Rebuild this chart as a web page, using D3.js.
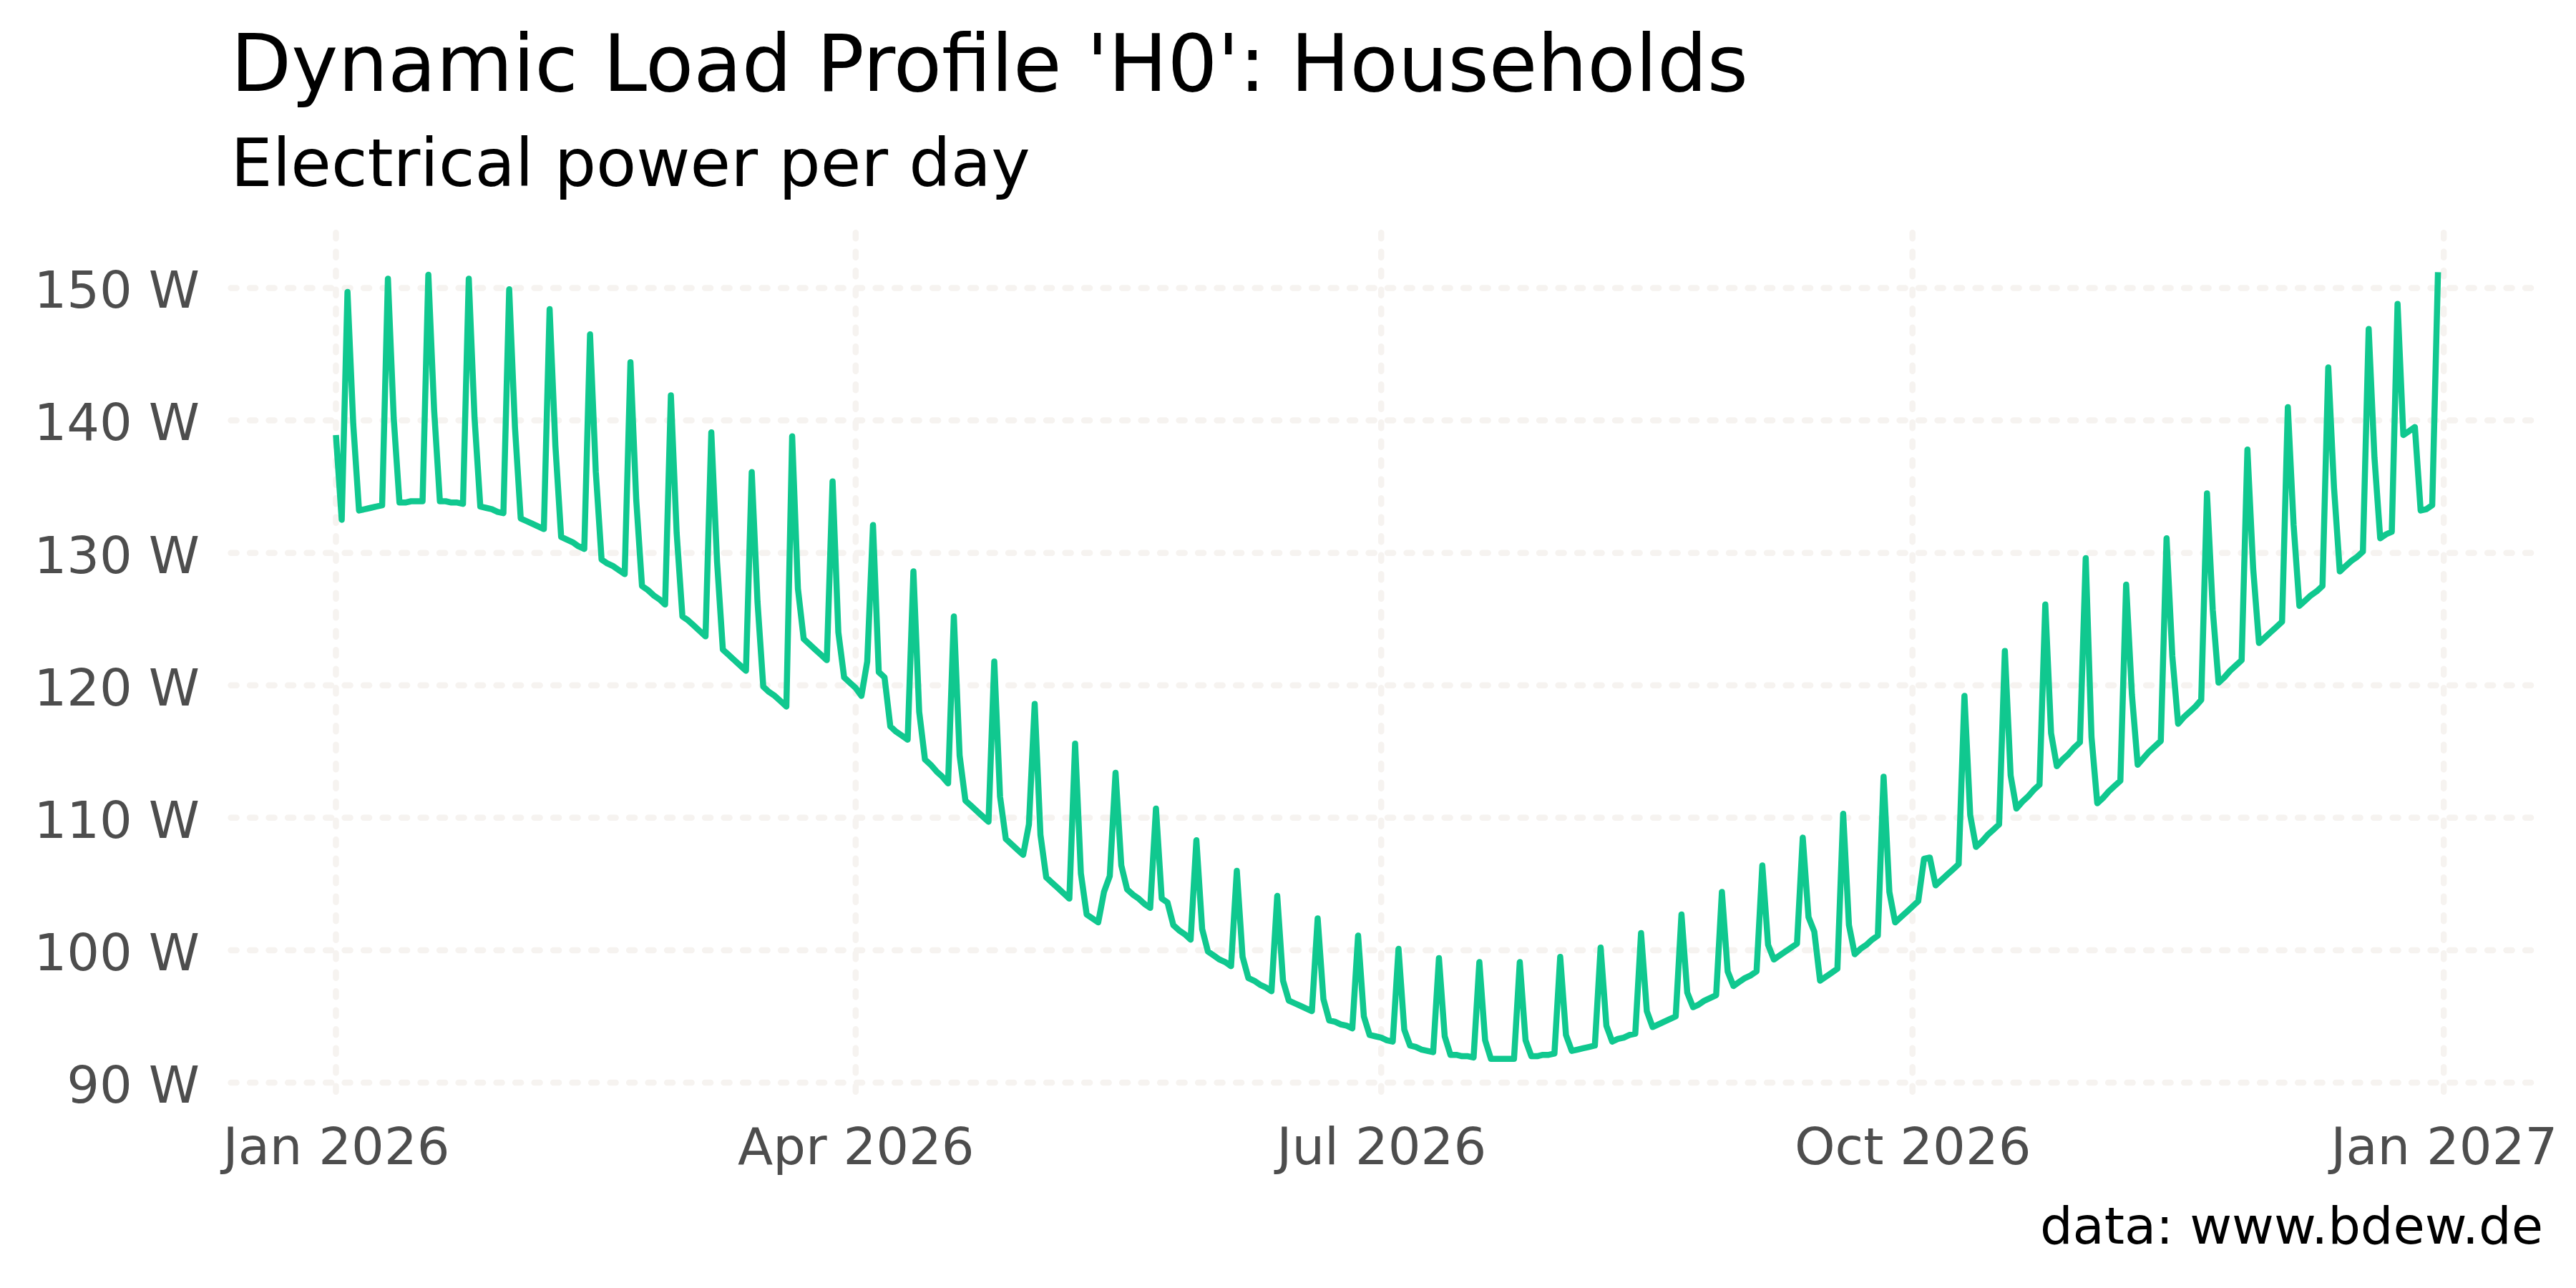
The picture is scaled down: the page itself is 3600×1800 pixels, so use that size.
<!DOCTYPE html>
<html>
<head>
<meta charset="utf-8">
<script src="https://cdn.jsdelivr.net/npm/d3@7"></script>
<style>
html, body { margin: 0; padding: 0; background: #ffffff; }
svg { display: block; }
</style>
</head>
<body>
<svg id="chart" width="3600" height="1800"></svg>
<script>
// ---------------- DATA (daily average power, W) ----------------
const startDate = "2026-01-01";
const jan = [138.9,132.5,149.7,139.7,133.2,133.3,133.4,133.5,133.6,150.7,140.2,133.8,133.8,133.9,133.9,133.9,151.0,140.8,133.9,133.9,133.8,133.8,133.7,150.7,140.2,133.5,133.4,133.3,133.1,133.0,149.9];
const feb = [139.5,132.6,132.4,132.2,132.0,131.8,148.4,138.1,131.2,131.0,130.8,130.5,130.3,146.5,136.1,129.5,129.2,129.0,128.7,128.4,144.4,134.0,127.5,127.2,126.8,126.5,126.1,141.9];
const mar = [131.5,125.2,124.9,124.5,124.1,123.7,139.1,129.3,122.7,122.3,121.9,121.5,121.1,136.1,126.3,119.9,119.5,119.2,118.8,118.4,138.8,127.3,123.5,123.1,122.7,122.3,121.9,135.4,124.0,120.6,120.2];
const apr = [119.8,119.2,121.8,132.1,121.0,120.6,116.9,116.5,116.2,115.9,128.6,118.0,114.4,114.0,113.5,113.1,112.6,125.2,114.7,111.3,110.9,110.5,110.1,109.7,121.8,111.6,108.4,108.0,107.6,107.2];
const may = [109.5,118.6,108.7,105.5,105.1,104.7,104.3,103.9,115.6,105.8,102.7,102.4,102.1,104.4,105.6,113.4,106.4,104.6,104.2,103.9,103.5,103.2,110.7,103.9,103.6,101.9,101.5,101.2,100.8,108.3,101.6];
const jun = [99.9,99.6,99.3,99.1,98.8,106.0,99.5,97.9,97.7,97.4,97.2,96.9,104.1,97.7,96.2,96.0,95.8,95.6,95.4,102.4,96.3,94.7,94.6,94.4,94.3,94.1,101.1,95.0,93.6,93.5];
const jul = [93.4,93.2,93.1,100.1,94.0,92.8,92.7,92.5,92.4,92.3,99.4,93.5,92.1,92.1,92.0,92.0,91.9,99.1,93.2,91.8,91.8,91.8,91.8,91.8,99.1,93.2,92.0,92.0,92.1,92.1,92.2];
const aug = [99.5,93.6,92.4,92.5,92.6,92.7,92.8,100.2,94.3,93.1,93.3,93.4,93.6,93.7,101.3,95.4,94.2,94.4,94.6,94.8,95.0,102.7,96.8,95.7,95.9,96.2,96.4,96.6,104.4,98.4,97.3];
const sep = [97.6,97.9,98.1,98.4,106.4,100.4,99.3,99.6,99.9,100.2,100.5,108.5,102.5,101.4,97.7,98.0,98.3,98.6,110.3,101.9,99.7,100.1,100.4,100.8,101.1,113.1,104.4,102.1,102.5,102.9];
const oct = [103.3,103.7,106.9,107.0,104.9,105.3,105.7,106.1,106.5,119.2,110.2,107.8,108.2,108.7,109.1,109.5,122.6,113.2,110.7,111.2,111.6,112.1,112.5,126.1,116.4,113.9,114.4,114.8,115.3,115.7,129.6];
const nov = [116.1,111.1,111.5,112.0,112.4,112.8,127.6,119.3,114.0,114.5,115.0,115.4,115.8,131.1,122.2,117.1,117.6,118.0,118.4,118.9,134.5,125.7,120.2,120.6,121.1,121.5,121.9,137.8,128.8,123.2];
const dec = [123.6,124.0,124.4,124.8,141.0,132.1,126.0,126.4,126.8,127.1,127.5,144.0,134.9,128.6,129.0,129.4,129.7,130.1,146.9,137.2,131.1,131.4,131.6,148.8,138.9,139.2,139.5,133.2,133.3,133.6,151.2];

const yTickValues = [90, 100, 110, 120, 130, 140, 150];
const xTickDates = ["2026-01-01", "2026-04-01", "2026-07-01", "2026-10-01", "2027-01-01"];

const titleText = "Dynamic Load Profile 'H0': Households";
const subtitleText = "Electrical power per day";
const captionText = "data: www.bdew.de";

// ---------------- BUILD ----------------
const values = [].concat(jan, feb, mar, apr, may, jun, jul, aug, sep, oct, nov, dec);
const parse = d3.utcParse("%Y-%m-%d");
const t0 = parse(startDate);
const data = values.map((v, i) => ({ date: d3.utcDay.offset(t0, i), value: v }));

const FONT = "DejaVu Sans, Verdana, sans-serif";
const panel = { left: 322.6, right: 3554, top: 325.3, bottom: 1534.7 };

const xExt = d3.extent(data, d => d.date);
const xSpan = xExt[1] - xExt[0];
const x = d3.scaleUtc()
  .domain([new Date(+xExt[0] - 0.05 * xSpan), new Date(+xExt[1] + 0.05 * xSpan)])
  .range([panel.left, panel.right]);

const yExt = d3.extent(values);
const ySpan = yExt[1] - yExt[0];
const y = d3.scaleLinear()
  .domain([yExt[0] - 0.05 * ySpan, yExt[1] + 0.05 * ySpan])
  .range([panel.bottom, panel.top]);

const svg = d3.select("#chart");
svg.append("rect").attr("width", 3600).attr("height", 1800).attr("fill", "#ffffff");

const xTicks = xTickDates.map(parse);

// grid
const grid = svg.append("g")
  .attr("stroke", "#f6f3f0")
  .attr("stroke-width", 8.5)
  .attr("stroke-linecap", "round")
  .attr("stroke-dasharray", "8 18.5")
  .attr("fill", "none");

grid.selectAll("line.h").data(yTickValues).join("line")
  .attr("class", "h")
  .attr("x1", panel.left).attr("x2", panel.right)
  .attr("y1", d => y(d)).attr("y2", d => y(d));

grid.selectAll("line.v").data(xTicks).join("line")
  .attr("class", "v")
  .attr("x1", d => x(d)).attr("x2", d => x(d))
  .attr("y1", panel.top).attr("y2", panel.bottom);

// line
const line = d3.line()
  .x(d => x(d.date))
  .y(d => y(d.value));

svg.append("path")
  .datum(data)
  .attr("d", line)
  .attr("fill", "none")
  .attr("stroke", "#10c88f")
  .attr("stroke-width", 8.5)
  .attr("stroke-linejoin", "round")
  .attr("stroke-linecap", "butt");

// axes
const yAxis = d3.axisLeft(y)
  .tickValues(yTickValues)
  .tickSize(0)
  .tickPadding(43.6)
  .tickFormat(d => d + " W");

const gy = svg.append("g")
  .attr("transform", `translate(${panel.left},0)`)
  .call(yAxis);
gy.select(".domain").remove();
gy.selectAll("text")
  .attr("font-family", FONT)
  .attr("font-size", 72)
  .attr("fill", "#4d4d4d")
  .attr("dy", "0.38em");

const xAxis = d3.axisBottom(x)
  .tickValues(xTicks)
  .tickSize(0)
  .tickPadding(41)
  .tickFormat(d3.utcFormat("%b %Y"));

const gx = svg.append("g")
  .attr("transform", `translate(0,${panel.bottom})`)
  .call(xAxis);
gx.select(".domain").remove();
gx.selectAll("text")
  .attr("font-family", FONT)
  .attr("font-size", 72)
  .attr("fill", "#4d4d4d");

// titles
svg.append("text")
  .attr("x", panel.left).attr("y", 127)
  .attr("font-family", FONT).attr("font-size", 110)
  .attr("fill", "#000000")
  .text(titleText);

svg.append("text")
  .attr("x", panel.left).attr("y", 260)
  .attr("font-family", FONT).attr("font-size", 92)
  .attr("fill", "#000000")
  .text(subtitleText);

svg.append("text")
  .attr("x", panel.right).attr("y", 1738)
  .attr("text-anchor", "end")
  .attr("font-family", FONT).attr("font-size", 72)
  .attr("fill", "#000000")
  .text(captionText);
</script>
</body>
</html>
